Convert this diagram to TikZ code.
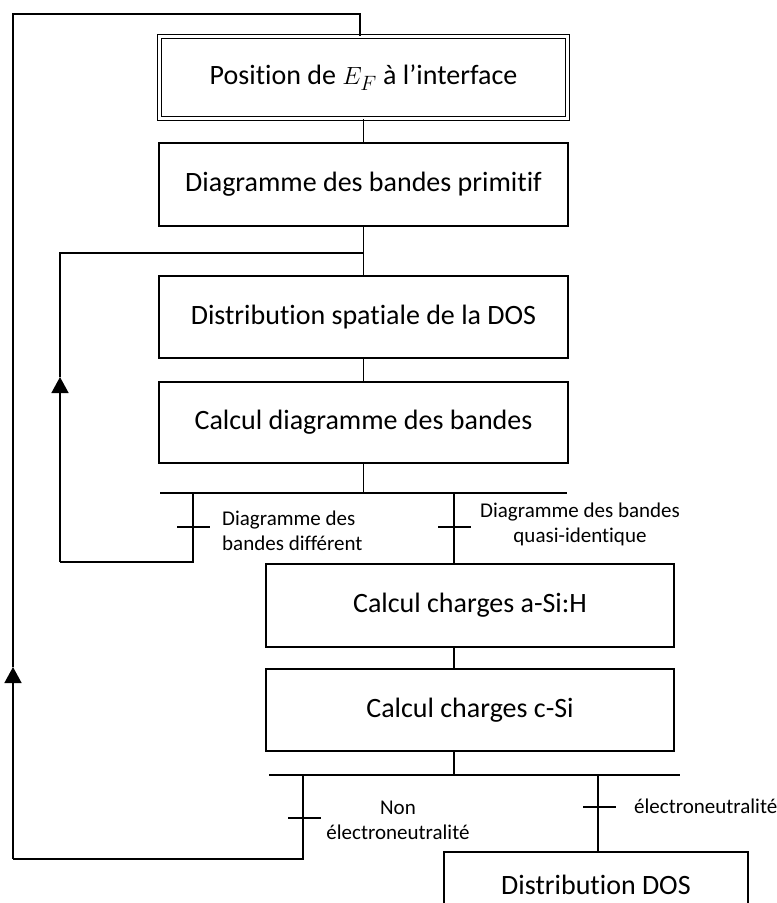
\documentclass[tikz,border=0pt]{standalone}
\usepackage{fontspec}
\setmainfont{Carlito}[RawFeature=-liga]
\usetikzlibrary{arrows.meta}
\begin{document}
\begin{tikzpicture}[x=1pt,y=1pt,yscale=-1,
  bloc/.style={draw,line width=2pt,minimum width=409pt,minimum height=82pt,inner sep=0pt,font=\fontsize{28}{33}\selectfont},
  lien/.style={line width=1.5pt},
  barre/.style={line width=2pt},
  etiq/.style={inner sep=0pt,font=\fontsize{21}{25}\selectfont},
  fleche/.style={lien,-{Triangle[length=16pt,width=17pt]}}]
\useasboundingbox (0,0) rectangle (777,903);
\node [bloc,double,double distance=2.6pt,line width=1.4pt,minimum width=408pt,minimum height=82pt] (pos) at (363.5,77.5) {Position de $E_F$ à l’interface};
\node [bloc,minimum height=83pt] (prim) at (363.5,184.5) {Diagramme des bandes primitif};
\node [bloc] (spat) at (363.5,317) {Distribution spatiale de la DOS};
\node [bloc,minimum height=81pt] (calc) at (363.5,422.5) {Calcul diagramme des bandes};
\node [bloc,minimum width=408pt,minimum height=83pt] (chA) at (470,605.5) {Calcul charges a-Si:H};
\node [bloc,minimum width=408pt] (chC) at (470,710) {Calcul charges c-Si};
\node [bloc,minimum width=304pt,minimum height=66pt] (dos) at (596,885) {Distribution DOS};
\coordinate (j1) at (363.5,253);
\coordinate (b1) at (363.5,493);
\coordinate (g1) at (193,493);
\coordinate (d1) at (454,493);
\coordinate (t1) at (193,527);
\coordinate (t2) at (454,527);
\coordinate (g1b) at (193,562);
\coordinate (g1c) at (60,562);
\coordinate (f1) at (60,377);
\coordinate (g1h) at (60,253);
\coordinate (b2) at (454,775);
\coordinate (g2) at (303,775);
\coordinate (d2) at (598,775);
\coordinate (t3) at (303,818);
\coordinate (t4) at (598,807);
\coordinate (g2b) at (303,859);
\coordinate (g2c) at (13,859);
\coordinate (f2) at (13,667);
\coordinate (g2h) at (13,14);
\coordinate (g2d) at (360,14);
\draw [lien] (pos.south) -- (prim.north);
\draw [lien] (prim.south) -- (j1) -- (spat.north);
\draw [lien] (spat.south) -- (calc.north);
\draw [lien] (calc.south) -- (b1);
\draw [barre] (160,493) -- (567,493);
\draw [lien] (g1) -- (g1b) -- (g1c);
\draw [fleche] (g1c) -- (f1);
\draw [lien] (f1) -- (g1h) -- (j1);
\draw [lien] (d1) -- (d1 |- chA.north);
\draw [lien] ([xshift=-16pt]t1) -- ([xshift=17pt]t1);
\draw [lien] ([xshift=-16pt]t2) -- ([xshift=17pt]t2);
\draw [lien] (chA.south -| d1) -- (chC.north -| d1);
\draw [lien] (chC.south -| b2) -- (b2);
\draw [barre] (269,775) -- (680,775);
\draw [lien] (g2) -- (g2b) -- (g2c);
\draw [fleche] (g2c) -- (f2);
\draw [lien] (f2) -- (g2h) -- (g2d) -- (g2d |- pos.north);
\draw [lien] (d2) -- (d2 |- dos.north);
\draw [lien] ([xshift=-15pt]t3) -- ([xshift=18pt]t3);
\draw [lien] ([xshift=-15pt]t4) -- ([xshift=18pt]t4);
\node [etiq,anchor=west,align=left] (l1) at (222,531) {Diagramme des\\bandes différent};
\node [etiq,align=center] (l2) at (580,524) {Diagramme des bandes\\quasi-identique};
\node [etiq,align=center] (l3) at (398,820) {Non\\électroneutralité};
\node [etiq,anchor=west] (l4) at (634,806) {électroneutralité};
\end{tikzpicture}
\end{document}
